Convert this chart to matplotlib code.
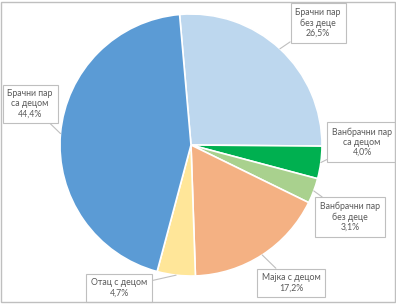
import numpy as np
import matplotlib
matplotlib.use("Agg")
from matplotlib import pyplot as plt
from matplotlib.patches import Rectangle

# udeo porodica po tipu (%)
kategorije = ["Брачни пар\nбез деце", "Ванбрачни пар\nса децом", "Ванбрачни пар\nбез деце",
              "Мајка с децом", "Отац с децом", "Брачни пар\nса децом"]
vrednosti = [26.5, 4.0, 3.1, 17.2, 4.7, 44.4]
boje = ["#BDD7EE", "#00B050", "#A9D18E", "#F4B183", "#FFE699", "#5B9BD5"]
# pozicije natpisa (px, y odozgo)
pozicije = [(318, 23), (362, 142), (350, 217), (291, 283), (119, 288), (30, 104)]

plt.rcParams['font.family'] = ['Lato', 'DejaVu Sans']

fig = plt.figure(figsize=(3.96, 3.04), dpi=100)
ax = fig.add_axes([0, 0, 1, 1])
cx, cy, r = 191, 304 - 145, 131
klinovi, _ = ax.pie(vrednosti, colors=boje, startangle=95, counterclock=False,
                    center=(cx, cy), radius=r,
                    wedgeprops=dict(edgecolor="white", linewidth=1.2))
ax.set_xlim(0, 396)
ax.set_ylim(0, 304)
ax.set_aspect("equal")
ax.axis("off")

for k, ime, v, (px, py) in zip(klinovi, kategorije, vrednosti, pozicije):
    ugao = np.deg2rad((k.theta1 + k.theta2) / 2)
    x, y = cx + r * np.cos(ugao), cy + r * np.sin(ugao)
    tekst = ime + "\n" + ("%.1f%%" % v).replace(".", ",")
    ax.annotate(tekst, xy=(x, y), xytext=(px, 304 - py), ha="center", va="center",
                fontsize=6.3, color="#595959", linespacing=1.15,
                bbox=dict(boxstyle="square,pad=0.55", fc="white", ec="#BFBFBF", lw=0.8),
                arrowprops=dict(arrowstyle="-", color="#BFBFBF", lw=0.8,
                                shrinkA=0, shrinkB=0))

fig.patches.append(Rectangle((1, 2), 394, 300, transform=None, fill=False,
                             ec="#BFBFBF", lw=1))
fig.savefig("out.png", dpi=100)
